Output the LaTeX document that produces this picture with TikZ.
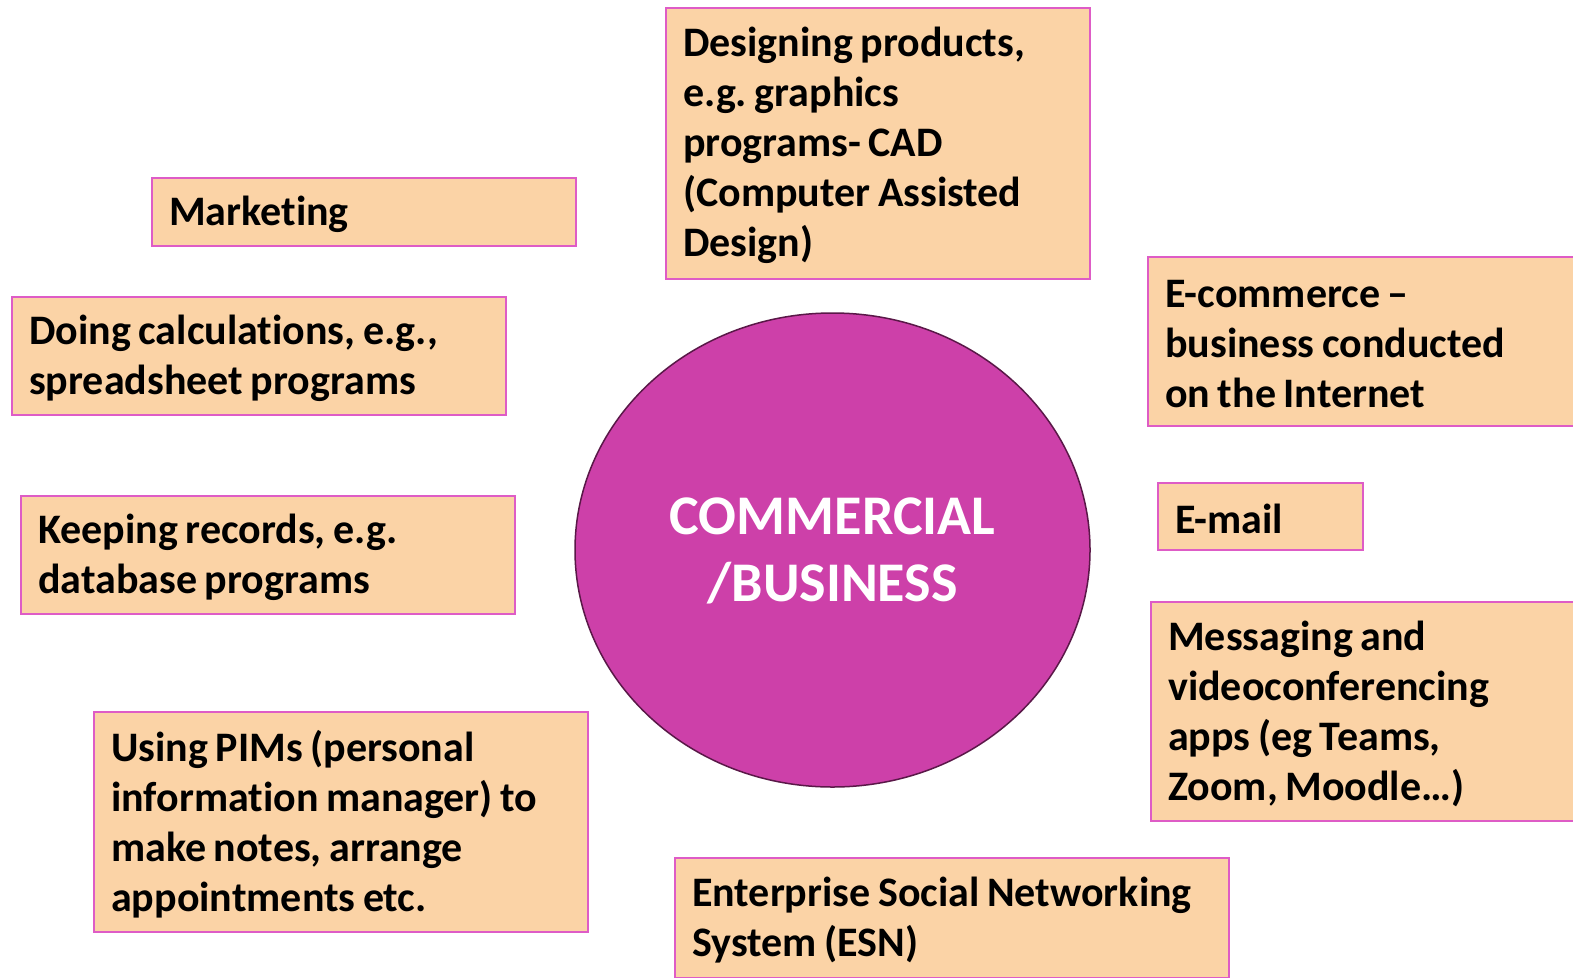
\documentclass[tikz,border=0pt]{standalone}
\usepackage{fontspec}
\setmainfont{Carlito}[Ligatures=NoCommon, WordSpace={0.8,0,0}]
\usetikzlibrary{shapes.geometric}
\definecolor{boxfill}{HTML}{FBD3A6}
\definecolor{boxline}{HTML}{DE5CC6}
\definecolor{hubfill}{HTML}{CD40A9}
\definecolor{hubline}{HTML}{5A1848}
\tikzset{
  infobox/.style={draw=boxline, fill=boxfill, line width=1.5pt, rectangle, anchor=north west, inner sep=0pt},
  infotext/.style={anchor=west, inner sep=0pt, align=left,
    font=\bfseries\fontsize{42}{50}\selectfont\frenchspacing, text=black},
  hub/.style={ellipse, draw=hubline, fill=hubfill, line width=1.5pt, inner sep=0pt},
  hubtxt/.style={align=center, text=white, inner sep=0pt, font=\bfseries\fontsize{56}{67}\selectfont}
}
\newcommand{\ibox}[6]{%
  \node[infobox, minimum width=#4pt, minimum height=#5pt] (#1) at (#2,#3) {};
  \node[infotext] (#1-t) at ([xshift=18pt,yshift=-2.5pt]#1.west) {#6};}
\begin{document}
\begin{tikzpicture}[x=1pt,y=-1pt]
\useasboundingbox (0,0) rectangle (1573,977);
\clip (0,0) rectangle (1573,977);
\fill[white] (0,0) rectangle (1573,977);
\node[hub, minimum width=515pt, minimum height=474pt] (hub) at (832.5,550) {};
\node[hubtxt] (hubtext) at ([yshift=-1pt]hub.center) {COMMERCIAL\\/BUSINESS};
\ibox{design}{665}{7}{424}{271}{Designing products,\\e.g. graphics\\programs- CAD\\(Computer Assisted\\Design)}
\ibox{market}{151}{177}{424}{68}{Marketing}
\ibox{calc}{11}{296}{494}{118}{Doing calculations, e.g.,\\spreadsheet programs}
\ibox{records}{20}{495}{494}{118}{Keeping records, e.g.\\database programs}
\ibox{pims}{93}{711}{494}{220}{Using PIMs (personal\\information manager) to\\make notes, arrange\\appointments etc.}
\ibox{ecom}{1147}{256}{500}{169}{E-commerce --\\business conducted\\on the Internet}
\ibox{email}{1157}{482}{205}{67}{E-mail}
\ibox{msg}{1150}{601}{500}{219}{Messaging and\\videoconferencing\\apps (eg Teams,\\Zoom, Moodle…)}
\ibox{esn}{674}{857}{554}{120}{Enterprise Social Networking\\System (ESN)}
\end{tikzpicture}
\end{document}
